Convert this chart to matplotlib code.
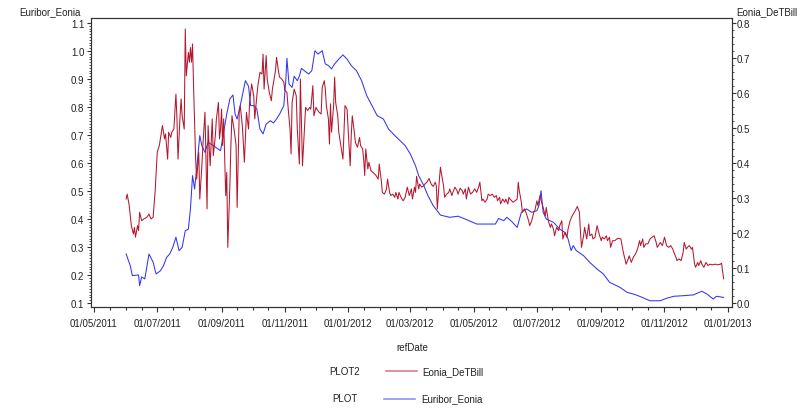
import matplotlib
matplotlib.use("Agg")
import matplotlib.pyplot as plt
import matplotlib.dates as mdates
from matplotlib.lines import Line2D
from matplotlib.ticker import FixedLocator, FormatStrFormatter
import numpy as np
import pandas as pd
import datetime as dt

plt.rcParams['font.family'] = ['Liberation Sans', 'DejaVu Sans']

# ---------------- data ----------------
eur_dates = [
    "2011-06-01", "2011-06-05", "2011-06-07", "2011-06-13", "2011-06-14", "2011-06-16", "2011-06-19",
    "2011-06-23", "2011-06-27", "2011-06-29", "2011-06-30",
    "2011-07-04", "2011-07-07", "2011-07-10", "2011-07-13", "2011-07-16", "2011-07-19", "2011-07-22",
    "2011-07-25", "2011-07-28", "2011-07-31",
    "2011-08-02", "2011-08-04", "2011-08-06", "2011-08-08", "2011-08-11", "2011-08-13", "2011-08-16",
    "2011-08-19", "2011-08-24", "2011-08-31",
    "2011-09-03", "2011-09-06", "2011-09-09", "2011-09-12", "2011-09-14", "2011-09-16", "2011-09-19",
    "2011-09-24", "2011-09-27", "2011-09-29",
    "2011-10-02", "2011-10-05", "2011-10-08", "2011-10-11", "2011-10-14", "2011-10-18", "2011-10-21",
    "2011-10-24", "2011-10-27", "2011-10-31",
    "2011-11-02", "2011-11-03", "2011-11-05", "2011-11-08", "2011-11-10", "2011-11-13", "2011-11-15",
    "2011-11-17", "2011-11-21", "2011-11-24", "2011-11-27", "2011-11-30",
    "2011-12-03", "2011-12-07", "2011-12-10", "2011-12-13", "2011-12-16", "2011-12-19", "2011-12-23",
    "2011-12-27", "2011-12-31",
    "2012-01-04", "2012-01-09", "2012-01-14", "2012-01-19", "2012-01-24", "2012-01-29",
    "2012-02-04", "2012-02-09", "2012-02-15", "2012-02-20", "2012-02-25",
    "2012-03-01", "2012-03-06", "2012-03-09", "2012-03-14", "2012-03-18", "2012-03-23", "2012-03-30",
    "2012-04-08", "2012-04-16", "2012-04-24",
    "2012-05-04", "2012-05-14", "2012-05-22", "2012-05-25", "2012-05-30",
    "2012-06-02", "2012-06-07", "2012-06-12", "2012-06-16", "2012-06-21", "2012-06-26",
    "2012-07-01", "2012-07-03", "2012-07-05", "2012-07-07", "2012-07-10", "2012-07-17", "2012-07-23",
    "2012-07-28", "2012-07-31",
    "2012-08-03", "2012-08-05", "2012-08-08", "2012-08-15", "2012-08-21", "2012-08-28",
    "2012-09-03", "2012-09-09", "2012-09-19", "2012-09-26",
    "2012-10-02", "2012-10-08", "2012-10-18", "2012-10-28",
    "2012-11-03", "2012-11-10", "2012-11-19", "2012-11-29",
    "2012-12-07", "2012-12-12", "2012-12-18", "2012-12-21", "2012-12-28",
]
eur_vals = [
    0.275, 0.233, 0.198, 0.200, 0.162, 0.193, 0.186, 0.275, 0.246, 0.215, 0.204,
    0.215, 0.233, 0.263, 0.275, 0.299, 0.335, 0.287, 0.299, 0.358, 0.364,
    0.436, 0.555, 0.507, 0.579, 0.698, 0.662, 0.638, 0.674, 0.662, 0.644,
    0.710, 0.775, 0.829, 0.843, 0.775, 0.757, 0.805, 0.894, 0.874, 0.805,
    0.805, 0.793, 0.721, 0.704, 0.739, 0.751, 0.743, 0.757, 0.775, 0.805,
    0.900, 0.974, 0.882, 0.870, 0.910, 0.894, 0.910, 0.938, 0.926, 0.918, 0.930, 1.001,
    0.989, 1.001, 0.954, 0.948, 0.936, 0.954, 0.971, 0.986, 0.971,
    0.948, 0.930, 0.894, 0.840, 0.805, 0.769,
    0.757, 0.721, 0.698, 0.680, 0.662,
    0.632, 0.590, 0.555, 0.519, 0.483, 0.448, 0.414,
    0.406, 0.410, 0.398,
    0.382, 0.382, 0.382, 0.402, 0.394,
    0.406, 0.390, 0.370, 0.424, 0.436, 0.424,
    0.430, 0.448, 0.501, 0.424, 0.400, 0.388, 0.364, 0.352, 0.329,
    0.287, 0.305, 0.287, 0.269, 0.245, 0.221,
    0.204, 0.174, 0.156, 0.138,
    0.132, 0.124, 0.108, 0.108,
    0.117, 0.124, 0.126, 0.129,
    0.142, 0.132, 0.114, 0.124, 0.120,
]

tb_dates = [
    # 2011-06
    "2011-06-01", "2011-06-02", "2011-06-04", "2011-06-06", "2011-06-08", "2011-06-09", "2011-06-10",
    "2011-06-12", "2011-06-13", "2011-06-14", "2011-06-16", "2011-06-18", "2011-06-21", "2011-06-23",
    "2011-06-25", "2011-06-27", "2011-06-28", "2011-06-29",
    # 2011-07
    "2011-07-01", "2011-07-03", "2011-07-05", "2011-07-06", "2011-07-08", "2011-07-09", "2011-07-11",
    "2011-07-12", "2011-07-14", "2011-07-15", "2011-07-17", "2011-07-19", "2011-07-20", "2011-07-21",
    "2011-07-23", "2011-07-24", "2011-07-25", "2011-07-27", "2011-07-28", "2011-07-29", "2011-07-31",
    # 2011-08
    "2011-08-01", "2011-08-02", "2011-08-03", "2011-08-04", "2011-08-05", "2011-08-07", "2011-08-08",
    "2011-08-10", "2011-08-11", "2011-08-13", "2011-08-14", "2011-08-16", "2011-08-18", "2011-08-19",
    "2011-08-21", "2011-08-23", "2011-08-24", "2011-08-26", "2011-08-27", "2011-08-29", "2011-08-30",
    "2011-08-31",
    # 2011-09
    "2011-09-01", "2011-09-02", "2011-09-03", "2011-09-05", "2011-09-06", "2011-09-07", "2011-09-09",
    "2011-09-10", "2011-09-11", "2011-09-13", "2011-09-15", "2011-09-16", "2011-09-18", "2011-09-19",
    "2011-09-21", "2011-09-23", "2011-09-25", "2011-09-27", "2011-09-28", "2011-09-30",
    # 2011-10
    "2011-10-02", "2011-10-03", "2011-10-05", "2011-10-06", "2011-10-08", "2011-10-10", "2011-10-11",
    "2011-10-12", "2011-10-14", "2011-10-15", "2011-10-17", "2011-10-19", "2011-10-20", "2011-10-23",
    "2011-10-24", "2011-10-26", "2011-10-27", "2011-10-29", "2011-10-31",
    # 2011-11
    "2011-11-01", "2011-11-03", "2011-11-04", "2011-11-06", "2011-11-07", "2011-11-08", "2011-11-10",
    "2011-11-12", "2011-11-13", "2011-11-15", "2011-11-16", "2011-11-18", "2011-11-20", "2011-11-21",
    "2011-11-23", "2011-11-25", "2011-11-26", "2011-11-28", "2011-11-29",
    # 2011-12
    "2011-12-01", "2011-12-02", "2011-12-04", "2011-12-06", "2011-12-07", "2011-12-09", "2011-12-10",
    "2011-12-11", "2011-12-13", "2011-12-14", "2011-12-15", "2011-12-16", "2011-12-18", "2011-12-19",
    "2011-12-20", "2011-12-22", "2011-12-23", "2011-12-25", "2011-12-26", "2011-12-27", "2011-12-29",
    "2011-12-31",
    # 2012-01
    "2012-01-01", "2012-01-03", "2012-01-04", "2012-01-05", "2012-01-07", "2012-01-08", "2012-01-10",
    "2012-01-12", "2012-01-13", "2012-01-15", "2012-01-16", "2012-01-17", "2012-01-18", "2012-01-20",
    "2012-01-21", "2012-01-23", "2012-01-25", "2012-01-28", "2012-01-30", "2012-01-31",
    # 2012-02
    "2012-02-02", "2012-02-03", "2012-02-05", "2012-02-07", "2012-02-08", "2012-02-10", "2012-02-11",
    "2012-02-13", "2012-02-15", "2012-02-16", "2012-02-18", "2012-02-19", "2012-02-21", "2012-02-23",
    "2012-02-25", "2012-02-27", "2012-02-29",
    # 2012-03
    "2012-03-02", "2012-03-03", "2012-03-05", "2012-03-06", "2012-03-07", "2012-03-09", "2012-03-10",
    "2012-03-12", "2012-03-14", "2012-03-15", "2012-03-17", "2012-03-19", "2012-03-21", "2012-03-23",
    "2012-03-25", "2012-03-26", "2012-03-27", "2012-03-29", "2012-03-30", "2012-03-31",
    # 2012-04
    "2012-04-02", "2012-04-03", "2012-04-05", "2012-04-07", "2012-04-08", "2012-04-10", "2012-04-11",
    "2012-04-13", "2012-04-15", "2012-04-16", "2012-04-18", "2012-04-20", "2012-04-21", "2012-04-23",
    "2012-04-24", "2012-04-26", "2012-04-28", "2012-04-29", "2012-04-30",
    # 2012-05
    "2012-05-02", "2012-05-04", "2012-05-06", "2012-05-07", "2012-05-09", "2012-05-10", "2012-05-12",
    "2012-05-14", "2012-05-15", "2012-05-17", "2012-05-19", "2012-05-21", "2012-05-23", "2012-05-24",
    "2012-05-26", "2012-05-27", "2012-05-29", "2012-05-31",
    # 2012-06
    "2012-06-01", "2012-06-03", "2012-06-04", "2012-06-05", "2012-06-08", "2012-06-10", "2012-06-12",
    "2012-06-13", "2012-06-14", "2012-06-16", "2012-06-17", "2012-06-19", "2012-06-21", "2012-06-23",
    "2012-06-24", "2012-06-26", "2012-06-28", "2012-06-29",
    # 2012-07
    "2012-07-01", "2012-07-02", "2012-07-04", "2012-07-06", "2012-07-07", "2012-07-09", "2012-07-10",
    "2012-07-12", "2012-07-14", "2012-07-15", "2012-07-17", "2012-07-18", "2012-07-20", "2012-07-22",
    "2012-07-23", "2012-07-25", "2012-07-26", "2012-07-28", "2012-07-30", "2012-07-31",
    # 2012-08
    "2012-08-02", "2012-08-04", "2012-08-05", "2012-08-07", "2012-08-09", "2012-08-11", "2012-08-12",
    "2012-08-13", "2012-08-15", "2012-08-16", "2012-08-18", "2012-08-20", "2012-08-21", "2012-08-23",
    "2012-08-24", "2012-08-26", "2012-08-28", "2012-08-30",
    # 2012-09
    "2012-09-01", "2012-09-02", "2012-09-04", "2012-09-06", "2012-09-07", "2012-09-09", "2012-09-10",
    "2012-09-12", "2012-09-14", "2012-09-17", "2012-09-20", "2012-09-22", "2012-09-25", "2012-09-27",
    "2012-09-28", "2012-09-30",
    # 2012-10
    "2012-10-02", "2012-10-04", "2012-10-06", "2012-10-08", "2012-10-09", "2012-10-11", "2012-10-12",
    "2012-10-14", "2012-10-16", "2012-10-18", "2012-10-20", "2012-10-22", "2012-10-24", "2012-10-25",
    "2012-10-28", "2012-10-30",
    # 2012-11
    "2012-11-01", "2012-11-03", "2012-11-05", "2012-11-07", "2012-11-09", "2012-11-10", "2012-11-12",
    "2012-11-13", "2012-11-15", "2012-11-17", "2012-11-19", "2012-11-20", "2012-11-22", "2012-11-23",
    "2012-11-25", "2012-11-27", "2012-11-28", "2012-11-30",
    # 2012-12
    "2012-12-01", "2012-12-03", "2012-12-04", "2012-12-06", "2012-12-07", "2012-12-09", "2012-12-11",
    "2012-12-13", "2012-12-15", "2012-12-17", "2012-12-20", "2012-12-22", "2012-12-25", "2012-12-26",
    "2012-12-28",
]
tb_vals = [
    0.297, 0.311, 0.278, 0.221, 0.197, 0.216, 0.188, 0.221, 0.207, 0.259, 0.235, 0.240, 0.245, 0.254,
    0.240, 0.245, 0.283, 0.321,
    0.431, 0.450, 0.488, 0.507, 0.469, 0.483, 0.411, 0.488, 0.473, 0.488, 0.497, 0.597, 0.526, 0.411,
    0.535, 0.583, 0.535, 0.497, 0.783, 0.649, 0.716,
    0.688, 0.730, 0.688, 0.740, 0.621, 0.411, 0.354, 0.431, 0.297, 0.392, 0.450, 0.545, 0.269, 0.507,
    0.392, 0.526, 0.421, 0.478, 0.526, 0.573, 0.469, 0.497,
    0.554, 0.450, 0.526, 0.307, 0.373, 0.159, 0.335, 0.450, 0.535, 0.497, 0.450, 0.273, 0.545, 0.564,
    0.507, 0.402, 0.545, 0.497, 0.573, 0.626,
    0.592, 0.526, 0.592, 0.621, 0.659, 0.654, 0.711, 0.611, 0.707, 0.640, 0.602, 0.578, 0.611, 0.664,
    0.702, 0.659, 0.645, 0.640, 0.631,
    0.607, 0.602, 0.564, 0.497, 0.426, 0.573, 0.611, 0.592, 0.497, 0.397, 0.640, 0.392, 0.507, 0.559,
    0.550, 0.559, 0.554, 0.621, 0.535,
    0.559, 0.554, 0.545, 0.540, 0.616, 0.635, 0.611, 0.564, 0.526, 0.454, 0.569, 0.488, 0.564, 0.645,
    0.573, 0.535, 0.488, 0.450, 0.431, 0.411, 0.564, 0.554,
    0.497, 0.392, 0.478, 0.535, 0.488, 0.459, 0.445, 0.473, 0.450, 0.440, 0.411, 0.364, 0.440, 0.383,
    0.402, 0.378, 0.373, 0.364, 0.354, 0.397,
    0.349, 0.316, 0.311, 0.326, 0.354, 0.316, 0.307, 0.311, 0.302, 0.316, 0.297, 0.316, 0.302, 0.292,
    0.302, 0.331, 0.307,
    0.326, 0.297, 0.331, 0.316, 0.362, 0.326, 0.340, 0.331, 0.335, 0.340, 0.345, 0.356, 0.340, 0.333,
    0.345, 0.335, 0.269, 0.354, 0.388, 0.369,
    0.335, 0.302, 0.311, 0.316, 0.326, 0.307, 0.316, 0.331, 0.321, 0.311, 0.328, 0.321, 0.311, 0.326,
    0.297, 0.331, 0.311, 0.314, 0.316,
    0.326, 0.316, 0.333, 0.345, 0.292, 0.297, 0.288, 0.297, 0.311, 0.307, 0.311, 0.302, 0.307, 0.292,
    0.302, 0.283, 0.297, 0.288,
    0.297, 0.283, 0.302, 0.297, 0.288, 0.292, 0.297, 0.345, 0.321, 0.288, 0.259, 0.269, 0.254, 0.235,
    0.221, 0.235, 0.259, 0.264,
    0.292, 0.278, 0.307, 0.283, 0.273, 0.249, 0.273, 0.235, 0.216, 0.226, 0.211, 0.192, 0.216, 0.207,
    0.221, 0.235, 0.183, 0.202, 0.188, 0.211,
    0.235, 0.249, 0.254, 0.264, 0.276, 0.259, 0.202, 0.159, 0.192, 0.216, 0.183, 0.226, 0.192, 0.197,
    0.183, 0.188, 0.221, 0.197,
    0.178, 0.188, 0.183, 0.192, 0.178, 0.188, 0.159, 0.178, 0.178, 0.185, 0.183, 0.149, 0.111, 0.126,
    0.135, 0.116,
    0.131, 0.140, 0.154, 0.178, 0.164, 0.183, 0.159, 0.169, 0.169, 0.183, 0.188, 0.192, 0.173, 0.159,
    0.173, 0.164,
    0.188, 0.164, 0.159, 0.164, 0.154, 0.145, 0.131, 0.121, 0.126, 0.121, 0.145, 0.173, 0.154, 0.159,
    0.164, 0.154, 0.159, 0.111,
    0.102, 0.116, 0.107, 0.121, 0.111, 0.102, 0.116, 0.107, 0.111, 0.109, 0.111, 0.109, 0.111, 0.114,
    0.069,
]

left_ticks = [0.1, 0.2, 0.3, 0.4, 0.5, 0.6, 0.7, 0.8, 0.9, 1.0, 1.1]
right_ticks = [0.0, 0.1, 0.2, 0.3, 0.4, 0.5, 0.6, 0.7, 0.8]

left_name = "Euribor_Eonia"
right_name = "Eonia_DeTBill"
x_name = "refDate"

# ---------------- styling ----------------
RED = "#B5172F"
BLUE = "#3434F2"
FRAME = "#333333"
FS = 7

W, H = 806, 410
fig = plt.figure(figsize=(W / 100, H / 100), dpi=100)
L, R, T, B = 91, 731.7, 19.3, 308
ax = fig.add_axes([L / W, 1 - B / H, (R - L) / W, (B - T) / H])
ax2 = ax.twinx()

ax.plot(pd.to_datetime(eur_dates), eur_vals, color=BLUE, lw=0.75, zorder=2)
ax2.plot(pd.to_datetime(tb_dates), tb_vals, color=RED, lw=0.75, zorder=3)

ax.set_xlim(dt.datetime(2011, 4, 28, 3), dt.datetime(2013, 1, 4, 19))
ax.set_ylim(0.1 - 4 / 280, 1.1 + 15.3 / 280 - 0.0 - 10.3 / 280 + 0.0)
ax.set_ylim(0.1 - 4 / 280, 0.1 + (304 - T) / 280)
ax2.set_ylim(-4 / 350, (304 - T) / 350)

# x ticks
ax.xaxis.set_major_locator(mdates.MonthLocator(bymonth=[1, 3, 5, 7, 9, 11]))
ax.xaxis.set_minor_locator(mdates.DayLocator(bymonthday=[1, 16]))
ax.xaxis.set_major_formatter(mdates.DateFormatter('%d/%m/%Y'))

# y ticks
ax.yaxis.set_major_locator(FixedLocator(left_ticks))
ax.yaxis.set_major_formatter(FormatStrFormatter('%.1f'))
ax.yaxis.set_minor_locator(FixedLocator(np.round(np.arange(0.1, 1.1001, 0.01), 3)))
ax2.yaxis.set_major_locator(FixedLocator(right_ticks))
ax2.yaxis.set_major_formatter(FormatStrFormatter('%.1f'))
ax2.yaxis.set_minor_locator(FixedLocator(np.round(np.arange(0.0, 0.8001, 0.02), 3)))

for a in (ax, ax2):
    for s in a.spines.values():
        s.set_color(FRAME)
        s.set_linewidth(0.8)

ax.tick_params(axis='x', which='major', direction='out', length=3.4, width=0.8,
               color=FRAME, labelsize=FS, pad=4.5, labelcolor='#222222')
ax.tick_params(axis='x', which='minor', direction='out', length=2.2, width=0.8, color=FRAME)
ax.tick_params(axis='y', which='major', direction='out', length=2.9, width=0.8,
               color=FRAME, labelsize=FS, pad=2.0, labelcolor='#222222')
ax.tick_params(axis='y', which='minor', direction='out', length=1.4, width=0.6, color=FRAME)
ax2.tick_params(axis='y', which='major', direction='out', length=2.9, width=0.8,
                color=FRAME, labelsize=FS, pad=0.8, labelcolor='#222222')
ax2.tick_params(axis='y', which='minor', direction='out', length=1.4, width=0.6, color=FRAME)

# axis titles
fig.text(19 / W, 1 - 12.5 / H, left_name, ha='left', va='center', fontsize=FS, color='#222222')
fig.text(736.5 / W, 1 - 12.5 / H, right_name, ha='left', va='center', fontsize=FS, color='#222222')
fig.text(412 / W, 1 - 348 / H, x_name, ha='center', va='center', fontsize=FS, color='#222222')

# legend
def legend_row(y, key, x0, x1, tx, label, color):
    yf = 1 - y / H
    fig.text(345 / W, yf, key, ha='center', va='center', fontsize=FS, color='#222222')
    fig.add_artist(Line2D([x0 / W, x1 / W], [yf, yf], transform=fig.transFigure,
                          color=color, lw=1.2, alpha=0.55))
    fig.text(tx / W, yf, label, ha='left', va='center', fontsize=FS, color='#222222')

legend_row(372, "PLOT2", 386, 417, 422.5, right_name, RED)
legend_row(399.5, "PLOT", 383.5, 415.5, 421, left_name, BLUE)

fig.savefig("out.png", dpi=100)
